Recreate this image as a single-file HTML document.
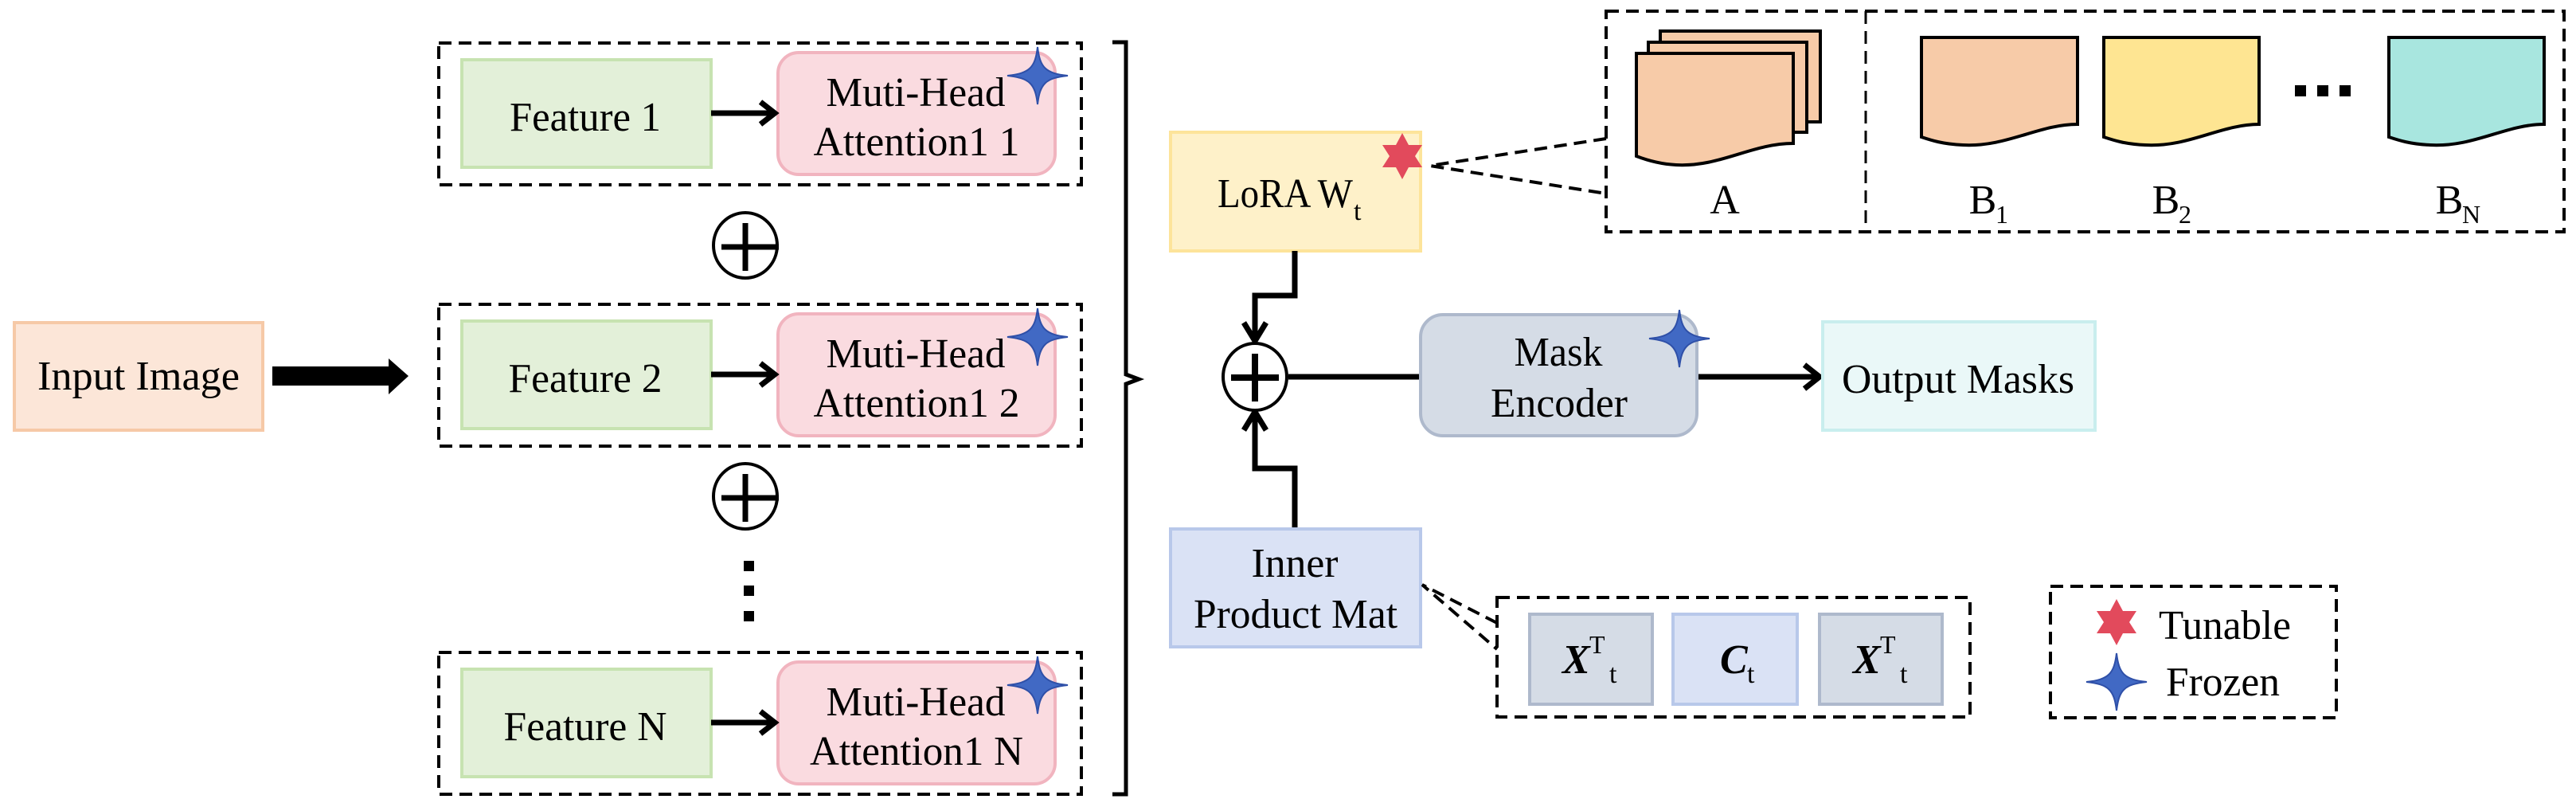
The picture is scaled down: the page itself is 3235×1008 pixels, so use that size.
<!DOCTYPE html>
<html><head><meta charset="utf-8"><style>
html,body{margin:0;padding:0;background:#fff}
svg{display:block}
svg text{font-family:"Liberation Serif","Times New Roman","DejaVu Serif",serif;fill:#000}
</style></head><body>
<svg width="3235" height="1008" viewBox="0 0 3235 1008" xmlns="http://www.w3.org/2000/svg" font-family="Liberation Serif, Times New Roman, DejaVu Serif, serif">
<defs>
<path id="bstar" d="M0,-36 C3,-10 10,-3 38,0 C10,3 3,10 0,36 C-3,10 -10,3 -38,0 C-10,-3 -3,-10 0,-36 Z" fill="#4169c4" stroke="#2f50a8" stroke-width="2"/>
<polygon id="rstar" points="0,-29 8,-14 25,-14 16,0 25,14 8,14 0,29 -8,14 -25,14 -16,0 -25,-14 -8,-14" fill="#e24a5c"/>
</defs>

<!-- Input Image -->
<rect x="18" y="405" width="312" height="135" fill="#fce6d8" stroke="#f6c9a7" stroke-width="4"/>
<text x="174" y="489" font-size="52" text-anchor="middle" textLength="254" lengthAdjust="spacingAndGlyphs">Input Image</text>
<polygon points="342,460 488,460 488,450 513,472 488,495 488,484 342,484" fill="#000"/>

<!-- Groups -->
<g id="g1">
<rect x="551" y="54" width="807" height="178" fill="none" stroke="#000" stroke-width="4" stroke-dasharray="16,9"/>
<rect x="580" y="75" width="313" height="135" fill="#e3f0d9" stroke="#c7e3b1" stroke-width="4"/>
<rect x="977" y="66" width="348" height="153" rx="26" fill="#fadbe0" stroke="#f1b4bf" stroke-width="4"/>
<line x1="893" y1="142" x2="970" y2="142" stroke="#000" stroke-width="7"/>
<path d="M955,128 L973,142 L955,156" fill="none" stroke="#000" stroke-width="7"/>
</g>
<text x="735" y="164" font-size="52" text-anchor="middle" textLength="190" lengthAdjust="spacingAndGlyphs">Feature 1</text>
<text x="1150" y="133" font-size="52" text-anchor="middle" textLength="225" lengthAdjust="spacingAndGlyphs">Muti-Head</text>
<text x="1151" y="195" font-size="52" text-anchor="middle" textLength="259" lengthAdjust="spacingAndGlyphs">Attention1 1</text>
<use href="#bstar" x="1303" y="95"/>

<use href="#g1" y="328"/>
<text x="735" y="492" font-size="52" text-anchor="middle" textLength="193" lengthAdjust="spacingAndGlyphs">Feature 2</text>
<text x="1150" y="461" font-size="52" text-anchor="middle" textLength="225" lengthAdjust="spacingAndGlyphs">Muti-Head</text>
<text x="1151" y="523" font-size="52" text-anchor="middle" textLength="259" lengthAdjust="spacingAndGlyphs">Attention1 2</text>
<use href="#bstar" x="1303" y="423"/>

<use href="#g1" y="765"/>
<text x="735" y="929" font-size="52" text-anchor="middle" textLength="205" lengthAdjust="spacingAndGlyphs">Feature N</text>
<text x="1150" y="898" font-size="52" text-anchor="middle" textLength="225" lengthAdjust="spacingAndGlyphs">Muti-Head</text>
<text x="1151" y="960" font-size="52" text-anchor="middle" textLength="268" lengthAdjust="spacingAndGlyphs">Attention1 N</text>
<use href="#bstar" x="1303" y="860"/>

<!-- plus circles -->
<g stroke="#000" fill="none">
<ellipse cx="936" cy="308" rx="40" ry="41" stroke-width="4"/>
<line x1="906" y1="310" x2="978" y2="310" stroke-width="7"/>
<line x1="936" y1="280" x2="936" y2="340" stroke-width="7"/>
<ellipse cx="936" cy="623" rx="40" ry="41" stroke-width="4"/>
<line x1="906" y1="625" x2="978" y2="625" stroke-width="7"/>
<line x1="936" y1="595" x2="936" y2="655" stroke-width="7"/>
</g>
<g fill="#000">
<rect x="934" y="704" width="13" height="13"/>
<rect x="934" y="735" width="13" height="13"/>
<rect x="934" y="767" width="13" height="13"/>
</g>

<!-- brace -->
<path d="M1397,53 H1414 V470 L1430,476 L1414,482 V997 H1397" fill="none" stroke="#000" stroke-width="5"/>

<!-- LoRA -->
<rect x="1470" y="166" width="314" height="149" fill="#fef1c9" stroke="#fde49a" stroke-width="4"/>
<text x="1529" y="260" font-size="52" textLength="170" lengthAdjust="spacingAndGlyphs">LoRA W</text>
<text x="1700" y="276" font-size="34">t</text>
<use href="#rstar" x="1761" y="196"/>

<!-- dashed connection to A/B -->
<path d="M2017,174 L1796,208 L2017,243" fill="none" stroke="#000" stroke-width="4" stroke-dasharray="16,9"/>
<rect x="2017" y="14" width="1203" height="277" fill="none" stroke="#000" stroke-width="4" stroke-dasharray="16,9"/>
<line x1="2343" y1="14" x2="2343" y2="291" stroke="#000" stroke-width="3" stroke-dasharray="16,9"/>

<!-- pages A -->
<g stroke="#000" stroke-width="4" fill="#f7cba8">
<path d="M2085,39 H2286 V153 H2085 Z"/>
<path d="M2070,53 H2269 V166 H2070 Z"/>
<path d="M2055,67 H2252 V180 C2200,180 2160,210 2105,207 C2085,206 2068,201 2055,196 Z"/>
</g>
<text x="2166" y="268" font-size="52" text-anchor="middle">A</text>

<path d="M2413,47 H2609 V156 C2560,156 2520,185 2465,182 C2440,181 2425,176 2413,172 Z" fill="#f7cba8" stroke="#000" stroke-width="4"/>
<path d="M2642,47 H2837 V156 C2789,156 2749,185 2694,182 C2669,181 2654,176 2642,172 Z" fill="#fee592" stroke="#000" stroke-width="4"/>
<path d="M3000,47 H3195 V156 C3147,156 3107,185 3052,182 C3027,181 3012,176 3000,172 Z" fill="#a8e6df" stroke="#000" stroke-width="4"/>
<g fill="#000"><rect x="2882" y="107" width="14" height="14"/><rect x="2910" y="107" width="14" height="14"/><rect x="2938" y="107" width="14" height="14"/></g>
<text x="2490" y="268" font-size="52" text-anchor="middle">B</text><text x="2506" y="280" font-size="32">1</text>
<text x="2720" y="268" font-size="52" text-anchor="middle">B</text><text x="2736" y="280" font-size="32">2</text>
<text x="3076" y="268" font-size="52" text-anchor="middle">B</text><text x="3092" y="280" font-size="32">N</text>

<!-- connectors to main plus -->
<g stroke="#000" stroke-width="7" fill="none">
<path d="M1626,315 V371 H1576 V425"/>
<path d="M1562,405 L1576,428 L1590,405"/>
<path d="M1626,664 V588 H1576 V520"/>
<path d="M1562,540 L1576,517 L1590,540"/>
<line x1="1618" y1="473" x2="1784" y2="473"/>
<line x1="2131" y1="473" x2="2282" y2="473"/>
<path d="M2266,458 L2285,473 L2266,488"/>
</g>
<ellipse cx="1576" cy="473" rx="40" ry="42" fill="#fff" stroke="#000" stroke-width="4"/>
<line x1="1546" y1="474" x2="1606" y2="474" stroke="#000" stroke-width="8"/>
<line x1="1576" y1="444" x2="1576" y2="504" stroke="#000" stroke-width="8"/>

<!-- Mask Encoder -->
<rect x="1784" y="395" width="347" height="152" rx="28" fill="#d5dce6" stroke="#aeb9cc" stroke-width="4"/>
<text x="1957" y="459" font-size="52" text-anchor="middle" textLength="111" lengthAdjust="spacingAndGlyphs">Mask</text>
<text x="1958" y="523" font-size="52" text-anchor="middle" textLength="172" lengthAdjust="spacingAndGlyphs">Encoder</text>
<use href="#bstar" x="2109" y="425"/>

<!-- Output masks -->
<rect x="2289" y="404" width="342" height="136" fill="#eaf8f8" stroke="#c9eeee" stroke-width="4"/>
<text x="2459" y="493" font-size="52" text-anchor="middle" textLength="292" lengthAdjust="spacingAndGlyphs">Output Masks</text>

<!-- Inner product -->
<rect x="1470" y="664" width="314" height="148" fill="#dae2f5" stroke="#b8c8ea" stroke-width="4"/>
<text x="1626" y="724" font-size="52" text-anchor="middle" textLength="109" lengthAdjust="spacingAndGlyphs">Inner</text>
<text x="1627" y="788" font-size="52" text-anchor="middle" textLength="256" lengthAdjust="spacingAndGlyphs">Product Mat</text>
<path d="M1880,782 L1786,734 L1880,815" fill="none" stroke="#000" stroke-width="4" stroke-dasharray="16,9"/>
<rect x="1880" y="750" width="594" height="150" fill="none" stroke="#000" stroke-width="4" stroke-dasharray="16,9"/>
<rect x="1921" y="771" width="154" height="113" fill="#d5dce6" stroke="#aeb9cc" stroke-width="4"/>
<rect x="2101" y="771" width="156" height="113" fill="#dae2f5" stroke="#b8c8ea" stroke-width="4"/>
<rect x="2285" y="771" width="154" height="113" fill="#d5dce6" stroke="#aeb9cc" stroke-width="4"/>
<text x="1962" y="845" font-size="52" font-style="italic" font-weight="bold">X</text><text x="1996" y="820" font-size="32">T</text><text x="2021" y="857" font-size="34">t</text>
<text x="2160" y="845" font-size="52" font-style="italic" font-weight="bold">C</text><text x="2194" y="857" font-size="34">t</text>
<text x="2327" y="845" font-size="52" font-style="italic" font-weight="bold">X</text><text x="2361" y="820" font-size="32">T</text><text x="2386" y="857" font-size="34">t</text>

<!-- legend -->
<rect x="2575" y="736" width="359" height="165" fill="none" stroke="#000" stroke-width="4" stroke-dasharray="16,9"/>
<use href="#rstar" x="2658" y="781"/>
<text x="2711" y="802" font-size="52" textLength="166" lengthAdjust="spacingAndGlyphs">Tunable</text>
<use href="#bstar" x="2658" y="856"/>
<text x="2720" y="873" font-size="52" textLength="143" lengthAdjust="spacingAndGlyphs">Frozen</text>
</svg>
</body></html>
